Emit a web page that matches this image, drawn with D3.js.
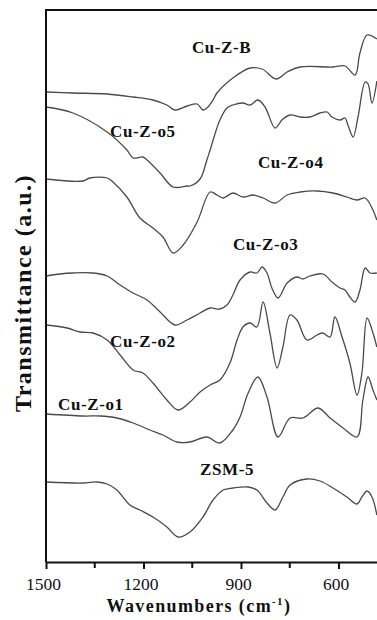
<!DOCTYPE html>
<html>
<head>
<meta charset="utf-8">
<script src="https://cdn.jsdelivr.net/npm/d3@7"></script>
<style>
  body { margin: 0; background: #fff; }
  svg { display: block; }
  text { font-family: "Liberation Serif", "Times New Roman", serif; fill: #111; }
</style>
</head>
<body>
<div id="chart"></div>
<script>
// FTIR spectra, [wavenumber (cm-1), transmittance (a.u., stacked)]
const cuZB = [[1500,470],[1417,469],[1312,468],[1232,465],[1171,462],[1128,457],[1103,452],[1066,456],[1035,458],[1017,452],[1005,454],[986,462],[974,469],[925,484],[872,494],[835,493],[792,483],[758,490],[718,495],[617,495],[580,496],[549,487],[534,509],[512,527],[482,523]];
const cuZo5 = [[1500,455],[1417,449],[1312,430],[1251,412],[1232,404],[1202,405],[1189,402],[1149,389],[1109,375],[1066,376],[1057,376],[1026,383],[1005,402],[995,412],[965,442],[943,454],[925,457],[894,459],[872,457],[848,462],[826,455],[795,434],[774,442],[749,447],[718,445],[688,445],[657,449],[635,450],[620,445],[595,442],[580,444],[571,437],[555,425],[540,445],[518,480],[509,478],[497,459],[482,481]];
const cuZo4 = [[1500,383],[1386,381],[1365,384],[1312,384],[1294,380],[1251,365],[1211,344],[1171,334],[1140,325],[1109,309],[1078,317],[1035,340],[995,370],[974,367],[955,364],[925,369],[894,365],[863,367],[832,364],[795,359],[758,367],[718,370],[666,371],[617,369],[574,365],[543,362],[518,364],[494,352],[482,342]];
const cuZo3 = [[1500,286],[1457,288],[1417,289],[1355,289],[1312,286],[1272,277],[1232,269],[1189,262],[1149,250],[1103,237],[1066,242],[1026,249],[995,254],[965,253],[943,257],[925,267],[903,282],[872,290],[851,289],[835,295],[820,289],[805,274],[786,264],[758,279],[728,285],[709,283],[688,286],[648,288],[620,280],[595,274],[580,272],[565,265],[549,260],[534,272],[518,294],[503,289],[482,289]];
const cuZo2 = [[1500,237],[1435,234],[1395,230],[1355,229],[1312,222],[1272,207],[1232,192],[1202,189],[1171,179],[1128,162],[1094,152],[1057,160],[1026,170],[995,177],[965,182],[934,199],[912,222],[894,235],[872,239],[851,235],[832,260],[811,229],[789,194],[771,215],[749,247],[728,242],[697,222],[666,227],[648,229],[626,225],[611,245],[589,225],[565,199],[543,167],[528,189],[512,244],[494,229],[482,215]];
const cuZo1 = [[1500,148],[1386,146],[1334,146],[1282,144],[1232,139],[1180,132],[1140,127],[1097,120],[1057,120],[1005,125],[965,119],[925,132],[903,145],[878,169],[848,185],[820,165],[786,125],[749,144],[709,144],[663,154],[626,144],[586,134],[543,125],[525,162],[509,185],[494,172],[482,162]];
const zsm5 = [[1500,80],[1386,79],[1343,80],[1312,78],[1282,72],[1242,57],[1211,52],[1171,45],[1128,35],[1094,25],[1057,30],[1017,45],[986,62],[955,72],[925,74],[878,75],[851,72],[820,59],[795,52],[771,65],[749,77],[697,83],[657,81],[617,74],[574,65],[543,58],[528,65],[512,71],[497,65],[482,47]];

const seriesNames = ["Cu-Z-B", "Cu-Z-o5", "Cu-Z-o4", "Cu-Z-o3", "Cu-Z-o2", "Cu-Z-o1", "ZSM-5"];
const seriesData = [cuZB, cuZo5, cuZo4, cuZo3, cuZo2, cuZo1, zsm5];
// label anchor (start of text) [wavenumber, a.u.]
const labelPos = [[1051,509],[1303,425],[848,394],[925,312],[1303,215],[1463,152],[1026,87]];

const majorTicks = [1500, 1200, 900, 600];
const minorTicks = [1350, 1050, 750, 450];

const width = 377, height = 620;
const plotLeft = 46, plotTop = 10, plotBottom = 562;

const svg = d3.select('#chart').append('svg')
    .attr('width', width)
    .attr('height', height);

const x = d3.scaleLinear().domain([1500, 400]).range([plotLeft, plotLeft + 1100 * 0.325]);
const y = d3.scaleLinear().domain([0, 552]).range([plotBottom, plotTop]);

const line = d3.line()
    .x(d => x(d[0]))
    .y(d => y(d[1]))
    .curve(d3.curveCatmullRom.alpha(0.5));

svg.append('g')
    .selectAll('path')
    .data(seriesData)
    .enter().append('path')
    .attr('d', line)
    .attr('fill', 'none')
    .attr('stroke', '#4a4a4a')
    .attr('stroke-width', 1.3);

// series labels
svg.append('g')
    .selectAll('text')
    .data(seriesNames)
    .enter().append('text')
    .attr('x', (d, i) => x(labelPos[i][0]))
    .attr('y', (d, i) => y(labelPos[i][1]))
    .attr('font-size', 17)
    .attr('font-weight', 'bold')
    .attr('letter-spacing', 0.6)
    .text(d => d);

// bottom axis
const xAxis = d3.axisBottom(x)
    .tickValues(majorTicks)
    .tickFormat(d3.format('d'))
    .tickSize(7)
    .tickSizeOuter(0)
    .tickPadding(9);

const gx = svg.append('g')
    .attr('transform', `translate(0,${plotBottom})`)
    .call(xAxis);
gx.select('.domain').attr('stroke-width', 2).attr('stroke', '#111');
gx.selectAll('.tick line').attr('stroke-width', 2).attr('stroke', '#111');
gx.selectAll('.tick text')
    .attr('font-size', 17.5)
    .attr('font-family', '"Liberation Serif", "Times New Roman", serif')
    .attr('fill', '#111')
    .attr('dx', -3);

gx.selectAll('.minor')
    .data(minorTicks)
    .enter().append('line')
    .attr('class', 'minor')
    .attr('x1', d => x(d)).attr('x2', d => x(d))
    .attr('y1', 0).attr('y2', 6)
    .attr('stroke', '#111')
    .attr('stroke-width', 2);

// frame: left and top
svg.append('line')
    .attr('x1', plotLeft).attr('x2', plotLeft)
    .attr('y1', plotTop).attr('y2', plotBottom)
    .attr('stroke', '#111').attr('stroke-width', 2);
svg.append('line')
    .attr('x1', plotLeft - 1).attr('x2', width)
    .attr('y1', plotTop).attr('y2', plotTop)
    .attr('stroke', '#111').attr('stroke-width', 2);

// axis titles
const xt = svg.append('text')
    .attr('x', 199)
    .attr('y', 612)
    .attr('text-anchor', 'middle')
    .attr('font-size', 18)
    .attr('font-weight', 'bold')
    .attr('letter-spacing', 1.4);
xt.append('tspan').text('Wavenumbers (cm');
xt.append('tspan').attr('dy', -7).attr('font-size', 11).text('-1');
xt.append('tspan').attr('dy', 7).text(')');

svg.append('text')
    .attr('transform', 'translate(31,293) rotate(-90)')
    .attr('text-anchor', 'middle')
    .attr('font-size', 24)
    .attr('font-weight', 'bold')
    .attr('letter-spacing', 1.5)
    .text('Transmittance (a.u.)');
</script>
</body>
</html>
